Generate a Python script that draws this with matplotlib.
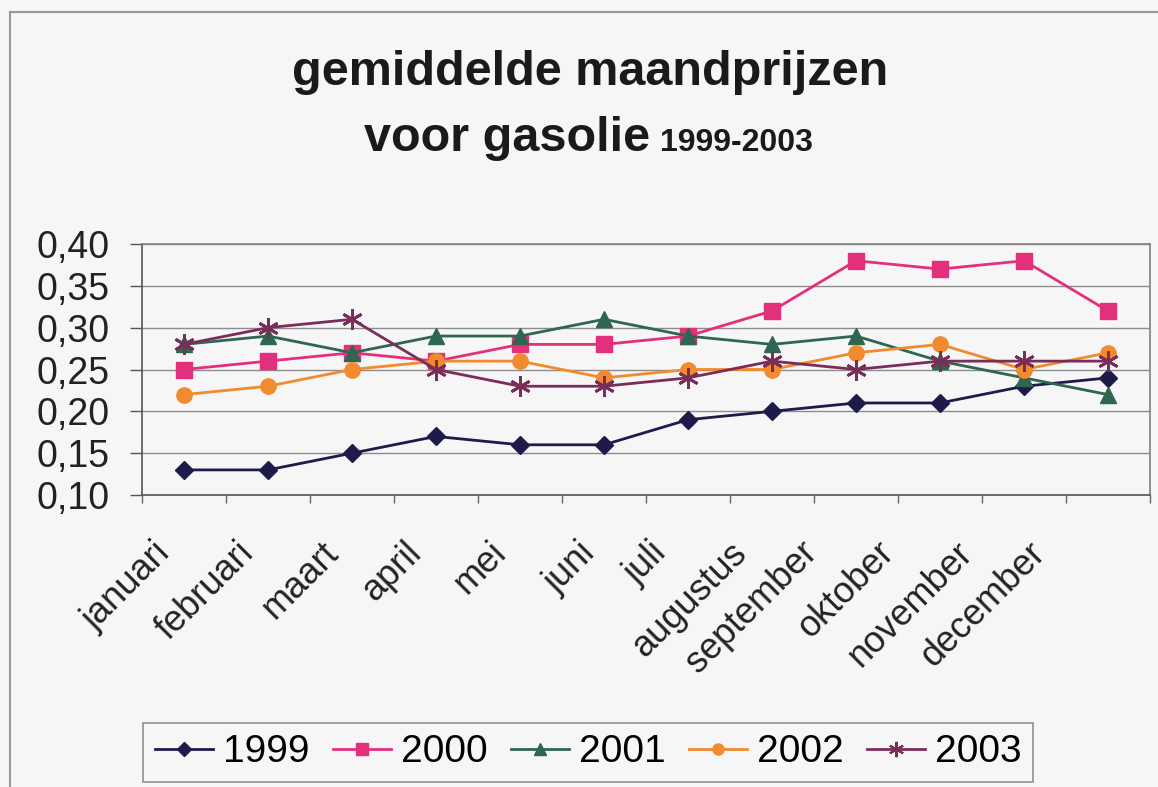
import matplotlib
matplotlib.use("Agg")
import matplotlib.pyplot as plt
from matplotlib.lines import Line2D
from matplotlib.ticker import FuncFormatter, FixedLocator
from matplotlib.transforms import ScaledTranslation

plt.rcParams['font.family'] = ['Liberation Sans', 'DejaVu Sans']

months = ["januari", "februari", "maart", "april", "mei", "juni", "juli",
          "augustus", "september", "oktober", "november", "december"]
years = ["1999", "2000", "2001", "2002", "2003"]
p1999 = [0.13, 0.13, 0.15, 0.17, 0.16, 0.16, 0.19, 0.20, 0.21, 0.21, 0.23, 0.24]
p2000 = [0.25, 0.26, 0.27, 0.26, 0.28, 0.28, 0.29, 0.32, 0.38, 0.37, 0.38, 0.32]
p2001 = [0.28, 0.29, 0.27, 0.29, 0.29, 0.31, 0.29, 0.28, 0.29, 0.26, 0.24, 0.22]
p2002 = [0.22, 0.23, 0.25, 0.26, 0.26, 0.24, 0.25, 0.25, 0.27, 0.28, 0.25, 0.27]
p2003 = [0.28, 0.30, 0.31, 0.25, 0.23, 0.23, 0.24, 0.26, 0.25, 0.26, 0.26, 0.26]
series = [p1999, p2000, p2001, p2002, p2003]

colors = ['#1e1b4b', '#e3307d', '#2e6650', '#f28a2e', '#7b2d5a']
markers = ['D', 's', '^', 'o', (6, 2, 0)]
msizes = [9, 11, 12, 11, 15]
lmsizes = [7, 8, 9, 8, 11]

W, H = 1158, 787
fig = plt.figure(figsize=(W / 100, H / 100), dpi=100)
bg = '#f6f6f6'
fig.patch.set_facecolor(bg)

# outer chart frame (top and left visible)
fig.add_artist(Line2D([10 / W, 1.0], [1 - 12 / H, 1 - 12 / H], color='#999999', lw=1.5))
fig.add_artist(Line2D([10 / W, 10 / W], [0, 1 - 12 / H], color='#999999', lw=1.5))

ax = fig.add_axes([142 / W, 1 - 495 / H, (1150 - 142) / W, (495 - 244) / H])
ax.set_facecolor(bg)

x = list(range(len(months)))
handles = []
for s, c, m, ms, lms, lab in zip(series, colors, markers, msizes, lmsizes, years):
    mew = 2 if m == (6, 2, 0) else 1
    ax.plot(x, s, color=c, lw=2.0, marker=m, ms=ms, mfc=c, mec=c, mew=mew, zorder=3)
    handles.append(Line2D([], [], color=c, lw=2.0, marker=m, ms=lms, mfc=c, mec=c,
                          mew=1.5 if m == (6, 2, 0) else 1, label=lab))

ax.set_xlim(-0.5, len(months) - 0.5)
ax.set_ylim(0.10, 0.40)
ax.set_yticks([0.10, 0.15, 0.20, 0.25, 0.30, 0.35, 0.40])
ax.yaxis.set_major_formatter(FuncFormatter(lambda v, p: f"{v:.2f}".replace('.', ',')))
ax.grid(axis='y', color='#8c8c8c', lw=1.0, zorder=1)
ax.set_axisbelow(True)

ax.set_xticks(x)
ax.set_xticklabels(months)
ax.xaxis.set_minor_locator(FixedLocator([i - 0.5 for i in range(len(months) + 1)]))
ax.tick_params(axis='x', which='major', length=0, pad=29, labelsize=26)
ax.tick_params(axis='x', which='minor', length=6, width=1, color='#666666', direction='out')
ax.tick_params(axis='y', length=9, width=1, color='#555555', direction='out', pad=14,
               labelsize=27, labelcolor='#222222')
for lbl in ax.get_xticklabels():
    lbl.set_rotation(45)
    lbl.set_ha('right')
    lbl.set_va('top')
    lbl.set_rotation_mode('anchor')
    lbl.set_color('#222222')

for sp in ['top', 'right']:
    ax.spines[sp].set_color('#808080')
    ax.spines[sp].set_linewidth(1.2)
for sp in ['left', 'bottom']:
    ax.spines[sp].set_color('#555555')
    ax.spines[sp].set_linewidth(1.2)

# title
fig.text(590 / W, 1 - 85 / H, "gemiddelde maandprijzen", ha='center', va='baseline',
         fontsize=35, fontweight='bold', color='#1a1a1a')
fig.text(650 / W, 1 - 151 / H, "voor gasolie", ha='right', va='baseline',
         fontsize=35, fontweight='bold', color='#1a1a1a')
fig.text(660 / W, 1 - 151 / H, "1999-2003", ha='left', va='baseline',
         fontsize=23, fontweight='bold', color='#1a1a1a')

leg = fig.legend(handles=handles, loc='lower center', bbox_to_anchor=(588 / W, 5 / H),
                 ncol=5, frameon=True, fancybox=False, edgecolor='#777777',
                 facecolor=bg, fontsize=28, handlelength=1.5, handletextpad=0.25,
                 columnspacing=0.6, borderpad=0.3, borderaxespad=0)
leg.get_frame().set_linewidth(1.2)

# per-label horizontal nudge to mimic the original label placement
fig.canvas.draw()
dx_px = [31, 32, 31, 32, 31, 26, 39, 43, 56, 63, 69, 80]
for lbl, d in zip(ax.get_xticklabels(), dx_px):
    lbl.set_transform(lbl.get_transform() + ScaledTranslation(-d / 100, 0, fig.dpi_scale_trans))

fig.savefig("out.png", dpi=100, facecolor=bg)
